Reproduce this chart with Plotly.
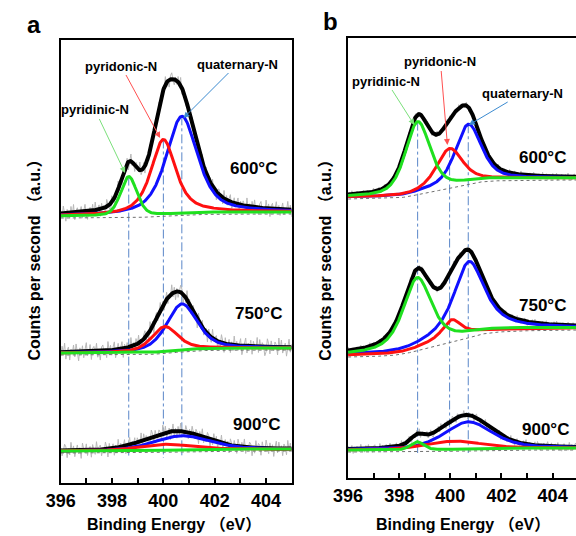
import numpy as np
import plotly.graph_objects as go

# ---------------- fitted N 1s components ----------------
# each component: centre (eV), height, FWHM (eV), Lorentzian fraction
temps = ["600", "750", "900"]
comp_names = ["pyridinic-N", "pyridonic-N", "quaternary-N"]

# panel a
a_centers = {"600": [398.65, 400.00, 400.72],
             "750": [398.70, 400.05, 400.72],
             "900": [398.70, 400.00, 400.70]}
a_heights = {"600": [39, 75, 97],
             "750": [1.0, 25, 46],
             "900": [0.5, 6, 14]}
a_fwhm = {"600": [0.75, 1.15, 1.45],
          "750": [1.0, 1.2, 1.4],
          "900": [1.0, 2.4, 2.6]}
a_eta = {"600": [0.3, 0.7, 0.6],
         "750": [0.5, 0.5, 0.5],
         "900": [0.3, 0.3, 0.3]}
a_bg_low = {"600": 267, "750": 130, "900": 32}
a_bg_high = {"600": 271, "750": 135, "900": 34}

# panel b
b_centers = {"600": [398.72, 399.97, 400.70],
             "750": [398.70, 400.05, 400.72],
             "900": [398.70, 400.10, 400.70]}
b_heights = {"600": [71, 38, 58],
             "750": [71, 21, 74],
             "900": [8, 8, 27]}
b_fwhm = {"600": [1.15, 1.2, 1.2],
          "750": [1.33, 0.95, 1.46],
          "900": [0.6, 2.6, 2.2]}
b_eta = {"600": [0.5, 0.5, 0.5],
         "750": [0.7, 0.9, 0.8],
         "900": [0.3, 0.3, 0.5]}
b_bg_low = {"600": 281, "750": 123, "900": 28}
b_bg_high = {"600": 300, "750": 150, "900": 30}

# measured-signal scatter around the fit envelope (relative units)
resid_a = [0.3, -0.5, 0.8, -0.2, -0.9, 0.4, 0.1, -0.6, 0.7, -0.3, 0.9, -0.8, 0.2, 0.5, -0.4,
           -0.1, 0.6, -0.7, 0.3, 0.8, -0.5, -0.9, 0.1, 0.4, -0.2, 0.7, -0.6, 0.9, -0.3, 0.0,
           0.5, -0.8, 0.6, -0.1, 0.3, -0.7, 0.8, 0.2, -0.4, -0.9, 0.7, 0.1, -0.5, 0.4, -0.2,
           0.9, -0.6, 0.3, -0.8, 0.5, 0.0, -0.3, 0.6, -0.9, 0.2, 0.8, -0.4, 0.1, -0.7, 0.5,
           0.3, -0.2, 0.9, -0.5, -0.1, 0.6, -0.8, 0.4, 0.2, -0.6, 0.7, -0.3, 0.1, 0.8, -0.9,
           0.3, -0.4, 0.6, 0.0, -0.7, 0.5, -0.2, 0.9, -0.5, 0.2, -0.8, 0.4, 0.7, -0.1, -0.6,
           0.3]
resid_b = [-0.4, 0.6, -0.1, 0.9, -0.7, 0.2, 0.5, -0.8, 0.3, -0.2, 0.7, -0.5, 0.8, 0.1, -0.9,
           0.4, -0.3, 0.6, -0.6, 0.2, 0.9, -0.4, -0.1, 0.7, -0.8, 0.3, 0.5, -0.2, 0.8, -0.6,
           0.1, -0.9, 0.4, 0.6, -0.3, 0.2, -0.7, 0.9, -0.1, 0.5, -0.5, 0.3, 0.8, -0.8, 0.0,
           0.6, -0.4, 0.2, 0.7, -0.9, 0.4, -0.2, 0.5, 0.1, -0.6, 0.9, -0.3, 0.3, -0.7, 0.6,
           -0.1, 0.8, -0.5, 0.2, -0.8, 0.4, 0.7, -0.4, 0.1, -0.6, 0.9, -0.2, 0.5, -0.9, 0.3,
           0.6, -0.5, 0.0, 0.8, -0.3, 0.4, -0.7, 0.2, 0.7, -0.6, 0.1, -0.2, 0.9, -0.4, 0.5,
           -0.8]
noise_a = {"600": (resid_a + resid_b, 9),
           "750": (resid_b + resid_a[::-1], 10),
           "900": (resid_a[::-1] + resid_b[::-1], 9)}
noise_b = {"600": (resid_b[::-1] + resid_a, 4),
           "750": (resid_a[45:] + resid_b + resid_a[:45], 4),
           "900": (resid_b[45:] + resid_a + resid_b[:45], 5)}

temp_labels = {"600": "600°C", "750": "750°C", "900": "900°C"}
tick_values = [396, 398, 400, 402, 404]

comp_colors = ["#1fe01f", "#ff1010", "#1010ff"]
arrow_colors = ["#7be07b", "#ff5050", "#3a8ad0"]
FONT = "Liberation Sans, Arial, Noto Sans CJK SC, sans-serif"

W, H = 576, 536


def pseudo_voigt(x, c, h, fwhm, eta):
    hw = fwhm / 2.0
    g = np.exp(-4 * np.log(2) * ((x - c) / fwhm) ** 2)
    l = 1.0 / (1.0 + ((x - c) / hw) ** 2)
    return h * (eta * l + (1 - eta) * g)


def shirley_bg(x, peaks_sum, low, high):
    cum = np.cumsum(peaks_sum)
    return low + (high - low) * cum / cum[-1]


def px_x(p):
    return p / W


def px_y(p):
    return 1 - p / H


x = np.linspace(396, 405, 541)

fig = go.Figure()

panels = [
    ("x", "y", a_centers, a_heights, a_fwhm, a_eta, a_bg_low, a_bg_high, noise_a),
    ("x2", "y2", b_centers, b_heights, b_fwhm, b_eta, b_bg_low, b_bg_high, noise_b),
]

guide_tops = {}
for xa, ya, cen, hts, fw, et, lo, hi, nz in panels:
    for t in temps:
        comps = [pseudo_voigt(x, cen[t][i], hts[t][i], fw[t][i], et[t][i]) for i in range(3)]
        total = comps[0] + comps[1] + comps[2]
        bg = shirley_bg(x, total, lo[t], hi[t])
        # raw signal
        res, amp = nz[t]
        xr = np.linspace(396, 405, len(res))
        cr = [pseudo_voigt(xr, cen[t][i], hts[t][i], fw[t][i], et[t][i]) for i in range(3)]
        tr = cr[0] + cr[1] + cr[2]
        bgr = np.interp(xr, x, bg)
        raw = tr + bgr + amp * np.array(res)
        fig.add_trace(go.Scatter(x=xr, y=raw, mode="lines", xaxis=xa, yaxis=ya,
                                 line=dict(color="#b8b8b8", width=1), showlegend=False,
                                 hoverinfo="skip"))
        # background
        fig.add_trace(go.Scatter(x=x, y=bg - 2, mode="lines", xaxis=xa, yaxis=ya,
                                 line=dict(color="#707070", width=1, dash="dot"),
                                 showlegend=False, hoverinfo="skip"))
        # envelope
        fig.add_trace(go.Scatter(x=x, y=total + bg, mode="lines", xaxis=xa, yaxis=ya,
                                 line=dict(color="black", width=4), showlegend=False))
        # components (quaternary, pyridonic, pyridinic drawn last)
        for i in [2, 1, 0]:
            fig.add_trace(go.Scatter(x=x, y=comps[i] + bg, mode="lines", xaxis=xa, yaxis=ya,
                                     line=dict(color=comp_colors[i], width=3),
                                     name=comp_names[i], showlegend=False))
        if t == "600":
            guide_tops[xa] = [(cen[t][i], float(np.interp(cen[t][i], x, comps[i] + bg)))
                              for i in range(3)]

# dash-dot guide lines through the component centres
for xa, ya in [("x", "y"), ("x2", "y2")]:
    for cx, top in guide_tops[xa]:
        fig.add_shape(type="line", xref=xa, yref=ya, x0=cx, x1=cx, y0=top, y1=25,
                      line=dict(color="#5a86c8", width=1, dash="dashdot"), layer="below")

axis_x = dict(showline=True, linewidth=2, linecolor="black", mirror=True,
              ticks="inside", ticklen=5, tickwidth=1.5, tickcolor="black",
              tickmode="array", tickvals=tick_values,
              ticktext=["<b>%d</b>" % v for v in tick_values],
              minor=dict(ticks="inside", ticklen=5, tickwidth=1.5, tickcolor="black",
                         dtick=1, tick0=396, showgrid=False),
              tickfont=dict(family=FONT, size=18, color="black"),
              showgrid=False, zeroline=False)
axis_y = dict(showline=True, linewidth=2, linecolor="black", showticklabels=False,
              ticks="", showgrid=False, zeroline=False)

fig.update_layout(
    width=W, height=H, margin=dict(l=0, r=0, t=0, b=0),
    paper_bgcolor="white", plot_bgcolor="white",
    xaxis=dict(axis_x, domain=[px_x(47), px_x(284)], range=[396, 405], anchor="y"),
    yaxis=dict(axis_y, domain=[px_y(483), px_y(40)], range=[0, 443], mirror=True, anchor="x"),
    xaxis2=dict(axis_x, domain=[px_x(342), 1.0], range=[396, 396 + 234 / 26.25], anchor="y2"),
    yaxis2=dict(axis_y, domain=[px_y(478), px_y(38)], range=[0, 440], mirror=False, anchor="x2"),
)

ann = []


def text_at(px, py, s, size, color="black", angle=0):
    ann.append(dict(xref="paper", yref="paper", x=px_x(px), y=px_y(py), text=s,
                    showarrow=False, textangle=angle, xanchor="center", yanchor="middle",
                    font=dict(family=FONT, size=size, color=color)))


def pointer_label(label_xy, tip_xy, s, color):
    # label placed at label_xy, arrow running from the label to tip_xy
    ann.append(dict(xref="paper", yref="paper", x=px_x(tip_xy[0]), y=px_y(tip_xy[1]),
                    text="<b>%s</b>" % s, showarrow=True, axref="pixel", ayref="pixel",
                    ax=label_xy[0] - tip_xy[0], ay=label_xy[1] - tip_xy[1],
                    arrowhead=2, arrowsize=1.2, arrowwidth=1, arrowcolor=color,
                    standoff=0, startstandoff=0,
                    font=dict(family=FONT, size=13, color="black")))


# panel letters
text_at(19, 24, "<b>a</b>", 24)
text_at(324, 22, "<b>b</b>", 24)

# axis titles
text_at(163, 524, "<b>Binding Energy （eV）</b>", 16)
text_at(460, 524, "<b>Binding Energy （eV）</b>", 16)
text_at(20, 256, "<b>Counts per second （a.u.）</b>", 16, angle=-90)
text_at(318, 256, "<b>Counts per second （a.u.）</b>", 16, angle=-90)

# temperature labels
for (px, py), t in zip([(245, 168), (250, 313), (248, 424)], temps):
    text_at(px, py, "<b>%s</b>" % temp_labels[t], 17)
for (px, py), t in zip([(542, 157), (542, 305), (545, 429)], temps):
    text_at(px, py, "<b>%s</b>" % temp_labels[t], 17)

# component labels with arrows, panel a
a_label_pos = [(83, 110), (110, 66), (227, 64)]
a_tip_pos = [(113, 173), (149, 138), (173, 118)]
for i in range(3):
    pointer_label(a_label_pos[i], a_tip_pos[i], comp_names[i], arrow_colors[i])

# component labels with arrows, panel b
b_label_pos = [(382, 81), (437, 62), (520, 93)]
b_tip_pos = [(410, 125), (444, 145), (466, 125)]
for i in range(3):
    pointer_label(b_label_pos[i], b_tip_pos[i], comp_names[i], arrow_colors[i])

fig.update_layout(annotations=ann)
fig.write_html("out.html")
